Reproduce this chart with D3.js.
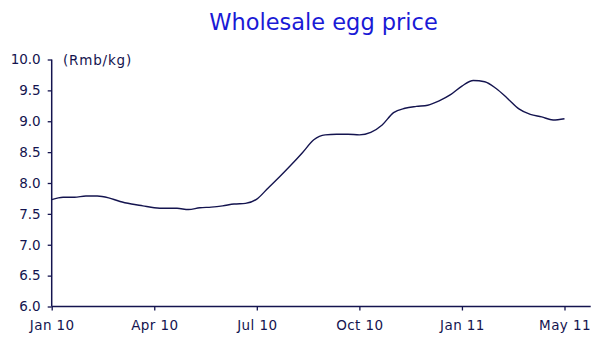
<!DOCTYPE html>
<html>
<head>
<meta charset="utf-8">
<script src="https://cdn.jsdelivr.net/npm/d3@7"></script>
<style>
  html, body { margin: 0; padding: 0; background: #fff; }
  svg { display: block; font-family: "DejaVu Sans", Verdana, sans-serif; }
</style>
</head>
<body>
<svg id="chart" width="610" height="348"></svg>
<script>
// Wholesale egg price, Rmb/kg, roughly every ten days from Jan 2010
const prices = [
  7.73, 7.77, 7.77, 7.79, 7.79, 7.76, 7.70, 7.66, 7.63, 7.60,
  7.59, 7.59, 7.57, 7.60, 7.61, 7.63, 7.66, 7.67, 7.74, 7.92,
  8.10, 8.29, 8.49, 8.70, 8.78, 8.79, 8.79, 8.78, 8.82, 8.94,
  9.14, 9.21, 9.24, 9.26, 9.33, 9.43, 9.57, 9.66, 9.64, 9.53,
  9.37, 9.20, 9.11, 9.07, 9.02, 9.04
];
const xTickIndex = [0, 9, 18, 27, 36, 45];
const xTickLabels = ["Jan 10", "Apr 10", "Jul 10", "Oct 10", "Jan 11", "May 11"];
const yTicks = [6.0, 6.5, 7.0, 7.5, 8.0, 8.5, 9.0, 9.5, 10.0];

const ink = "#14144f";
const svg = d3.select("#chart");

const x = d3.scaleLinear().domain([0, 47.3]).range([51.7, 590.7]);
const y = d3.scaleLinear().domain([6, 10]).range([306.5, 59.5]);

// title
svg.append("text")
  .attr("x", 323.5).attr("y", 29.5)
  .attr("text-anchor", "middle")
  .attr("font-size", 22.5)
  .attr("fill", "#1a1ad6")
  .text("Wholesale egg price");

// unit label
svg.append("text")
  .attr("x", 63).attr("y", 64.5)
  .attr("font-size", 13.5)
  .attr("letter-spacing", 0.8)
  .attr("fill", ink)
  .text("(Rmb/kg)");

// y axis
const yAxis = svg.append("g")
  .attr("transform", `translate(${x(0)},0)`)
  .call(d3.axisLeft(y).tickValues(yTicks).tickFormat(d3.format(".1f")).tickSize(4).tickPadding(7));

// x axis
const xAxis = svg.append("g")
  .attr("transform", `translate(0,${y(6)})`)
  .call(d3.axisBottom(x).tickValues(xTickIndex)
    .tickFormat((d, i) => xTickLabels[i]).tickSize(4).tickPadding(10));

[yAxis, xAxis].forEach(g => {
  g.select(".domain").attr("stroke", ink).attr("stroke-width", 1.5);
  g.selectAll(".tick line").attr("stroke", ink).attr("stroke-width", 1.3);
  g.selectAll(".tick text")
    .attr("fill", ink)
    .attr("font-size", 13.5)
    .attr("font-family", "\"DejaVu Sans\", Verdana, sans-serif");
});
xAxis.selectAll(".tick text").attr("letter-spacing", 0.4);
// keep the axes plain lines without end caps
xAxis.select(".domain").attr("d", `M${x(0)},0H${x(47.3)}`);
yAxis.select(".domain").attr("d", `M0,${y(10)}V${y(6)}`);

// price line
const line = d3.line()
  .x((d, i) => x(i))
  .y(d => y(d))
  .curve(d3.curveMonotoneX);

svg.append("path")
  .datum(prices)
  .attr("fill", "none")
  .attr("stroke", ink)
  .attr("stroke-width", 1.4)
  .attr("d", line);
</script>
</body>
</html>
